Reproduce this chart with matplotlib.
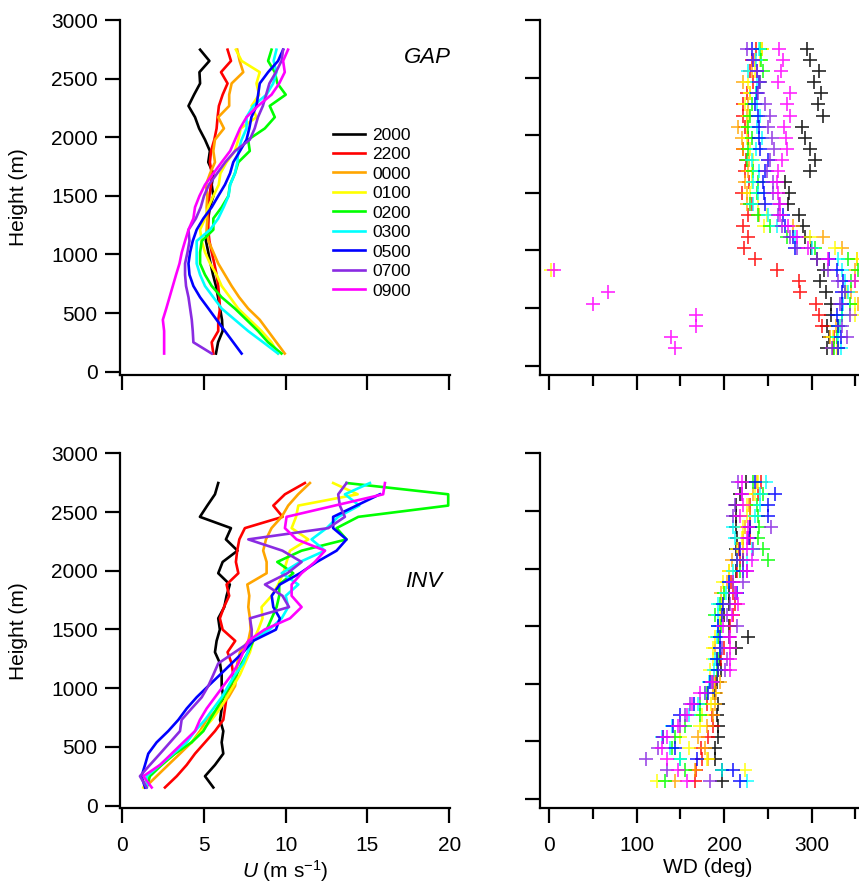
import matplotlib
matplotlib.use('Agg')
import matplotlib.pyplot as plt
from matplotlib.ticker import MultipleLocator
import numpy as np

plt.rcParams['font.family'] = 'Liberation Sans'
plt.rcParams['mathtext.fontset'] = 'custom'
plt.rcParams['mathtext.rm'] = 'Liberation Sans'
plt.rcParams['mathtext.it'] = 'Liberation Sans:italic'

times = ['2000', '2200', '0000', '0100', '0200', '0300', '0500', '0700', '0900']
colors = ['#000000', '#ff0000', '#ffa500', '#ffff00', '#00ff00', '#00ffff', '#0000ff', '#8a2be2', '#ff00ff']

# sounding levels (m), bottom to top
heights = [155, 251, 347, 443, 539, 635, 731, 827, 923, 1019, 1115, 1211, 1307, 1403,
           1499, 1595, 1691, 1787, 1883, 1979, 2075, 2171, 2267, 2363, 2459, 2555, 2651, 2747]

# wind speed (m/s), GAP case, one row per time
gap_speed = [
    [5.73, 5.86, 6.14, 6.1, 5.98, 5.86, 5.73, 5.55, 5.4, 5.26, 5.12, 5.2, 5.26, 5.36, 5.57, 5.47, 5.57, 5.26, 5.36, 5.06, 4.7, 4.45, 4.05, 4.39, 4.76, 4.72, 5.33, 4.76],
    [5.57, 5.47, 5.87, 5.87, 5.98, 5.93, 5.87, 5.77, 5.63, 5.47, 5.33, 5.26, 5.26, 5.26, 5.33, 5.43, 5.47, 5.36, 5.43, 5.63, 5.77, 5.83, 5.91, 6.14, 6.44, 6.04, 6.65, 6.44],
    [9.94, 9.43, 8.92, 8.41, 7.7, 7.15, 6.69, 6.28, 5.87, 5.57, 5.27, 5.16, 5.2, 5.16, 5.2, 5.12, 5.37, 5.67, 5.57, 5.67, 6.22, 5.87, 6.54, 6.54, 6.69, 7.4, 7.18, 7.03],
    [9.53, 9.13, 8.52, 7.8, 7.09, 6.59, 6.08, 5.77, 5.37, 5.06, 4.86, 4.76, 5.06, 5.26, 5.57, 5.9, 6.0, 6.38, 6.89, 7.1, 7.24, 8.21, 7.91, 8.37, 8.21, 8.41, 7.3, 6.95],
    [9.74, 8.92, 8.31, 7.6, 6.89, 6.08, 5.47, 5.06, 4.76, 4.76, 4.86, 5.57, 5.57, 6.08, 6.49, 6.59, 6.89, 7.1, 7.8, 7.7, 8.72, 9.33, 9.02, 10.0, 9.49, 9.33, 8.92, 9.13],
    [9.53, 8.62, 7.7, 6.89, 6.08, 5.57, 5.06, 4.76, 4.55, 4.55, 4.55, 5.37, 5.87, 6.2, 6.5, 6.6, 6.89, 7.04, 7.1, 7.3, 7.6, 7.6, 8.0, 8.82, 9.23, 9.43, 9.26, 9.43],
    [7.3, 6.79, 6.28, 5.77, 5.27, 4.76, 4.35, 4.11, 4.05, 4.15, 4.31, 4.55, 4.96, 5.47, 5.87, 6.28, 6.59, 6.79, 7.2, 7.6, 7.77, 7.9, 8.21, 8.31, 8.41, 8.92, 9.53, 9.84],
    [5.47, 4.35, 4.31, 4.25, 4.15, 4.05, 3.9, 3.84, 3.84, 3.99, 4.11, 4.05, 4.5, 4.8, 5.0, 5.3, 5.8, 6.3, 6.9, 7.8, 8.1, 8.3, 8.6, 8.8, 9.0, 9.4, 9.74, 9.84],
    [2.56, 2.56, 2.56, 2.48, 2.69, 2.89, 3.09, 3.29, 3.5, 3.64, 3.84, 4.05, 4.35, 4.45, 4.72, 5.06, 5.57, 6.08, 6.6, 6.9, 7.2, 7.6, 8.3, 9.13, 9.6, 9.94, 9.84, 10.14],
]

# wind speed (m/s), INV case
inv_speed = [
    [5.57, 5.06, 5.67, 6.18, 6.08, 6.18, 5.98, 6.08, 6.18, 6.08, 6.08, 5.98, 5.67, 5.77, 5.97, 5.87, 6.24, 6.38, 6.58, 5.87, 6.14, 7.05, 6.34, 6.65, 4.75, 5.2, 5.67, 5.87],
    [2.61, 3.33, 3.94, 4.45, 5.06, 5.67, 6.18, 6.28, 6.38, 6.69, 6.79, 6.69, 6.44, 6.91, 6.14, 5.97, 6.22, 6.54, 6.38, 7.1, 6.95, 7.03, 7.16, 7.5, 9.81, 9.24, 9.95, 11.17],
    [1.39, 2.1, 2.81, 3.53, 4.24, 4.75, 5.16, 5.87, 6.5, 6.9, 7.0, 7.03, 7.2, 7.71, 7.85, 7.81, 7.71, 7.77, 7.65, 8.83, 8.83, 8.62, 8.79, 9.13, 9.75, 10.15, 10.76, 11.48],
    [1.29, 1.59, 2.41, 3.22, 4.24, 4.86, 5.47, 5.98, 6.38, 6.79, 7.2, 7.5, 7.81, 8.01, 8.32, 8.58, 8.52, 9.14, 9.54, 9.85, 10.05, 10.26, 11.38, 10.36, 10.63, 10.77, 14.4, 12.9],
    [1.49, 1.69, 2.41, 3.22, 4.24, 4.96, 5.36, 5.77, 6.18, 6.58, 7.0, 7.3, 7.7, 8.01, 8.83, 9.14, 9.44, 9.6, 9.6, 10.46, 9.48, 10.97, 13.72, 13.11, 14.44, 19.94, 19.94, 13.72],
    [1.49, 1.49, 2.31, 3.12, 3.94, 4.45, 5.06, 5.57, 6.08, 6.48, 6.89, 7.4, 7.67, 7.9, 9.0, 9.75, 10.15, 10.0, 10.77, 9.75, 10.87, 12.4, 11.58, 12.5, 13.21, 14.5, 13.62, 15.15],
    [1.39, 1.18, 1.39, 1.59, 2.1, 2.81, 3.43, 3.94, 4.55, 5.26, 5.98, 6.69, 7.4, 8.0, 9.4, 9.64, 9.24, 9.14, 9.64, 10.87, 11.9, 13.11, 13.72, 12.9, 12.9, 14.33, 15.76, np.nan],
    [1.49, 1.08, 1.69, 2.31, 2.92, 3.53, 3.63, 4.24, 4.86, 5.26, 5.57, 5.87, 6.89, 7.9, 7.92, 7.81, 10.2, 9.8, 8.73, 10.1, 10.97, 9.8, 7.71, 12.6, 13.62, 13.31, 13.21, 13.72],
    [1.8, 1.29, 2.31, 3.02, 3.73, 4.45, 4.75, 5.16, 5.67, 6.18, 6.69, 7.1, 7.4, 7.71, 8.7, 10.26, 10.97, 10.36, 10.36, 10.97, 11.78, 12.4, 10.66, 9.95, 10.05, 13.0, 15.96, 16.07],
]

# wind direction (deg), GAP case
gap_dir = [
    [318, 320, 318, 322, 322, 316, 310, 314, 306, 299, 292, 290, 285, 273, 274, 269.5, 298, 304, 298, 292, 288.5, 312.5, 307.6, 310.3, 303, 308.7, 298, 294.3],
    [324.7, 326, 311.4, 308.7, 304.9, 286.6, 285.9, 260.7, 235.2, 222.6, 227.6, 221.8, 227.6, 232, 219.9, 228, 223.8, 225, 222, 227.6, 223.8, 221.8, 221.1, 225.7, 233.3, 230, 232, 236],
    [330, 320.9, 328, 335, 353.4, 345, 350, 350, 351.4, 335, 313.3, 279, 240, 225.7, 226, 223.8, 227.6, 228, 221.8, 219.9, 216.1, 225.7, 227.6, 229.5, 221.8, 232, 235, 242.8],
    [328.5, 324.7, 332, 349.5, 349.5, 340, 355, 2, 351.4, 326.6, 298.1, 245, 248.5, 239, 229.5, 232, 232, 233.3, 229.5, 225.7, 225.7, 228, 223.8, 229.5, 227.6, 235.2, 240.9, 243],
    [325.5, 328.5, 330, 334.3, 343.8, 338, 345, 353.3, 341.9, 303.8, 271.4, 252.3, 239, 229.5, 237.1, 239, 233.3, 225.7, 227.6, 232, 227.6, 229.5, 232, 236, 240.9, 244.7, 242, 240.9],
    [333, 330.5, 332.4, 335, 336, 341.9, 338, 334.3, 330, 300, 281, 260, 250, 233.3, 239, 233.3, 240.1, 231.4, 236, 242.8, 238, 240.9, 238, 236, 238, 227.6, 236, 240.1],
    [330.5, 333, 330.5, 328.5, 334.3, 334.3, 336.2, 328.5, 320, 281, 279, 269.5, 267.6, 246.6, 245, 244.7, 246.6, 250.4, 240.9, 240.1, 240.1, 239, 235.2, 237.1, 240.1, 237.1, 233.3, 231.4],
    [322.8, 340, 334.3, 343.8, 332.4, 338.1, 330.5, 319, 305.7, 282.8, 275.2, 265.7, 261.9, 263, 256.1, 256.1, 248.5, 252.3, 256.9, 254.2, 250.4, 252.3, 246.6, 239, 241, 237, 233.3, 225.7],
    [143.7, 139.1, 167.7, 167.7, 50.3, 67.5, 349.5, 6, 319, 296.2, 282.8, 273.3, 263.8, 263.8, 261.9, 260, 261.9, 265.7, 271.4, 270.6, 268.7, 275.2, 272.2, 275.2, 261.9, 264.9, 266.8, 263],
]

# wind direction (deg), INV case
inv_dir = [
    [197, 198, 189, 189, 193, 193, 192, 193, 190, 192, 196, 195, 214, 227.5, 205, 200, 205, 206, 210, 214, 222, 213, 215, 213, 214, 214, 218, 225],
    [166.5, 168, 175, 174, 182, 187.5, 186, 180, 187, 190, 193, 196, 200, 205, 207, 210, 212, 210, 208, 215, 218, 217, 229, 229, 229, 229.5, 239, 242],
    [143.7, 166.5, 181.8, 178, 170.4, 180, 187.5, 189.4, 191, 195, 193, 192, 190, 193, 195, 196, 198, 196, 202.8, 205, 208.5, 221.8, 221.8, 224, 229.5, 228, 233.3, 237],
    [122.7, 223.7, 180, 160, 150, 172.3, 175, 185, 187, 188, 183.7, 187.5, 187.5, 189.4, 195, 195, 198, 199.7, 199, 205.8, 214.2, 215, 220, 222, 225.7, 225.7, 235, 239],
    [132.2, 155, 150, 140, 143.7, 155.1, 172, 172, 180, 185.6, 191.3, 193, 195, 193.2, 196, 189.4, 195, 200, 210.4, 218, 250.4, 244.7, 239, 240.1, 239, 237, 244.7, 233.3],
    [225.6, 197, 149.4, 138, 128.4, 140, 160, 170.4, 178, 183, 188, 190, 195.1, 192, 193, 193.3, 193.3, 202, 205, 210, 225.7, 231.4, 212.3, 210.4, 235, 240.9, 240.9, 247.8],
    [218, 210.4, 168.4, 143.7, 130, 142, 149.4, 165, 181.8, 183.7, 193.2, 191.3, 195, 195.1, 193.3, 197.1, 199, 214.2, 205, 221.8, 215, 218, 228, 230, 250.4, 250.4, 258, 235],
    [183.7, 134.2, 110.6, 124.6, 130, 150, 155.1, 160.8, 178, 187.5, 200.9, 202.8, 197, 206, 214.2, 202.8, 206.6, 212.3, 221.8, 225.7, 221, 233.3, 227.6, 253.5, 209.6, 212, 219.9, 216.1],
    [157, 147.5, 134.2, 128.4, 134.2, 147.5, 157, 162.7, 172.3, 185.6, 206.6, 206.6, 206.6, 206.6, 199, 208.5, 216.1, 213.5, 210.4, 225.7, 231.4, 225.7, 225.7, 227.6, 218, 221.8, 220.5, 219.9],
]


def style_axes(ax, xlim, ylim, xstep, xminor=None, xlabels=False):
    ax.set_xlim(xlim)
    ax.set_ylim(ylim)
    ax.spines['top'].set_visible(False)
    ax.spines['right'].set_visible(False)
    ax.spines['left'].set_linewidth(1.6)
    ax.spines['bottom'].set_linewidth(1.6)
    ax.xaxis.set_major_locator(MultipleLocator(xstep))
    ax.yaxis.set_major_locator(MultipleLocator(500))
    if xminor:
        ax.xaxis.set_minor_locator(MultipleLocator(xminor))
        ax.tick_params(axis='x', which='minor', direction='out', length=8, width=1.6)
    ax.tick_params(which='major', direction='out', length=11, width=1.6,
                   labelsize=15, colors='black')
    ax.tick_params(axis='x', pad=9, labelbottom=xlabels)
    ax.tick_params(axis='y', pad=5)


fig = plt.figure(figsize=(8.59, 8.85), dpi=100)
ax_tl = fig.add_axes([0.1397, 0.5768, 0.3836, 0.4006])
ax_bl = fig.add_axes([0.1397, 0.0867, 0.3836, 0.4011])
ax_tr = fig.add_axes([0.6286, 0.5763, 0.3714, 0.4011])
ax_br = fig.add_axes([0.6286, 0.0867, 0.3714, 0.4011])

# wind speed profiles
for i in range(len(times)):
    ax_tl.plot(gap_speed[i], heights, color=colors[i], lw=1.9, label=times[i])
    ax_bl.plot(inv_speed[i], heights, color=colors[i], lw=1.9)

# wind direction crosses
for i in range(len(times)):
    ax_tr.plot(gap_dir[i], heights, ls='none', marker='+', ms=10.5, mew=1.2,
               color=colors[i], alpha=0.85)
    ax_br.plot(inv_dir[i], heights, ls='none', marker='+', ms=10.5, mew=1.2,
               color=colors[i], alpha=0.85)

style_axes(ax_tl, (-0.14, 20.02), (-24, 3000), 5)
style_axes(ax_bl, (-0.14, 20.02), (-22, 3000), 5, xlabels=True)
style_axes(ax_tr, (-10.6, 354), (-81, 3000), 100, xminor=50)
style_axes(ax_br, (-10.6, 354), (-81, 3000), 100, xminor=50, xlabels=True)
ax_tr.tick_params(axis='y', labelleft=False)
ax_br.tick_params(axis='y', labelleft=False)

ax_tl.set_ylabel('Height (m)', fontsize=15)
ax_bl.set_ylabel('Height (m)', fontsize=15)
ax_tl.yaxis.set_label_coords(-0.28, 0.5)
ax_bl.yaxis.set_label_coords(-0.28, 0.5)
ax_bl.set_xlabel(r'$\it{U}$ (m s$^{-1}$)', fontsize=15)
ax_br.set_xlabel('WD (deg)', fontsize=15)
ax_bl.xaxis.set_label_coords(0.5, -0.14)
ax_br.xaxis.set_label_coords(0.527, -0.14)

ax_tl.text(20.1, 2680, 'GAP', style='italic', fontsize=16, ha='right', va='center')
ax_bl.text(19.55, 1905, 'INV', style='italic', fontsize=16, ha='right', va='center')

ax_tl.legend(loc='upper left', bbox_to_anchor=(0.645, 0.697), frameon=False,
             fontsize=12.5, borderpad=0, borderaxespad=0, handlelength=1.85,
             handletextpad=0.45, labelspacing=0.25)

fig.savefig('out.png', dpi=100)
